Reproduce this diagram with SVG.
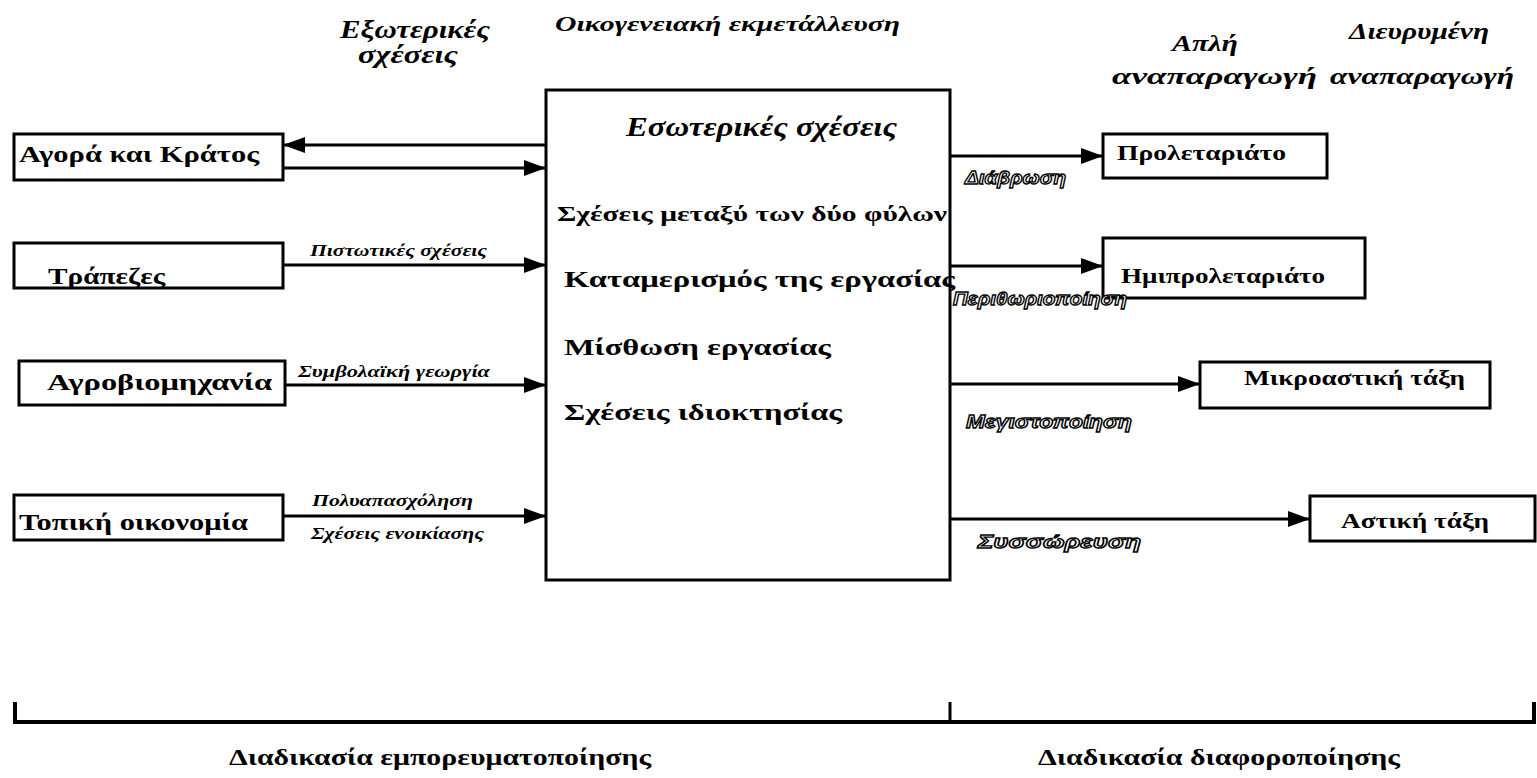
<svg xmlns="http://www.w3.org/2000/svg" width="1537" height="778" viewBox="0 0 1537 778">
<style>
.box{fill:#fff;stroke:#000;stroke-width:3}
.ln{stroke:#000;stroke-width:3;fill:none}
text{font-family:"Liberation Serif","Times New Roman","DejaVu Serif",serif}
.t{font-weight:bold;fill:#000}
.hi{font-weight:bold;font-style:italic;fill:#000}
.lab{font-weight:bold;font-style:italic;font-size:16px;fill:#000}
.out{font-family:"Liberation Sans",Arial,"DejaVu Sans",sans-serif;font-weight:bold;font-style:italic;font-size:19px;fill:#fff;stroke:#000;stroke-width:1.3}
</style>
<defs>
<marker id="ah" markerUnits="userSpaceOnUse" markerWidth="22" markerHeight="16" refX="22" refY="8" orient="auto">
<path d="M0,0 L22,8 L0,16 z" fill="#000"/>
</marker>
</defs>
<rect width="1537" height="778" fill="#fff"/>

<g id="headers">
<text class="hi" x="340" y="38" font-size="25" textLength="150" lengthAdjust="spacingAndGlyphs">Εξωτερικές</text>
<text class="hi" x="358" y="63" font-size="25" textLength="100" lengthAdjust="spacingAndGlyphs">σχέσεις</text>
<text class="hi" x="555" y="31" font-size="21" textLength="345" lengthAdjust="spacingAndGlyphs">Οικογενειακή εκμετάλλευση</text>
<text class="hi" x="1172" y="51" font-size="24" textLength="66" lengthAdjust="spacingAndGlyphs">Απλή</text>
<text class="hi" x="1112" y="84" font-size="24" textLength="205" lengthAdjust="spacingAndGlyphs">αναπαραγωγή</text>
<text class="hi" x="1349" y="39" font-size="24" textLength="140" lengthAdjust="spacingAndGlyphs">Διευρυμένη</text>
<text class="hi" x="1330" y="84" font-size="24" textLength="184" lengthAdjust="spacingAndGlyphs">αναπαραγωγή</text>
</g>

<g id="central">
<rect class="box" x="546" y="90" width="404" height="490"/>
<text class="hi" x="626" y="136" font-size="27" textLength="271" lengthAdjust="spacingAndGlyphs">Εσωτερικές σχέσεις</text>
<text class="t" x="557" y="221" font-size="21" textLength="390" lengthAdjust="spacingAndGlyphs">Σχέσεις μεταξύ των δύο φύλων</text>
<text class="t" x="564" y="287" font-size="24" textLength="391" lengthAdjust="spacingAndGlyphs">Καταμερισμός της εργασίας</text>
<text class="t" x="564" y="355" font-size="24" textLength="267" lengthAdjust="spacingAndGlyphs">Μίσθωση εργασίας</text>
<text class="t" x="564" y="420" font-size="24" textLength="278" lengthAdjust="spacingAndGlyphs">Σχέσεις ιδιοκτησίας</text>
</g>

<g id="agora">
<rect class="box" x="14" y="134" width="269" height="46"/>
<text class="t" x="19" y="162" font-size="23" textLength="240" lengthAdjust="spacingAndGlyphs">Αγορά και Κράτος</text>
</g>
<g id="trapezes">
<rect class="box" x="14" y="243" width="269" height="45"/>
<text class="t" x="48" y="284" font-size="23" textLength="117" lengthAdjust="spacingAndGlyphs">Τράπεζες</text>
</g>
<g id="agrobio">
<rect class="box" x="19" y="361" width="266" height="44"/>
<text class="t" x="47" y="390" font-size="24" textLength="225" lengthAdjust="spacingAndGlyphs">Αγροβιομηχανία</text>
</g>
<g id="topiki">
<rect class="box" x="14" y="495" width="269" height="45"/>
<text class="t" x="19" y="530" font-size="23" textLength="229" lengthAdjust="spacingAndGlyphs">Τοπική οικονομία</text>
</g>

<g id="proletariato">
<rect class="box" x="1103" y="134" width="224" height="44"/>
<text class="t" x="1117" y="160" font-size="21" textLength="169" lengthAdjust="spacingAndGlyphs">Προλεταριάτο</text>
</g>
<g id="imiproletariato">
<rect class="box" x="1103" y="238" width="262" height="60"/>
<text class="t" x="1121" y="283" font-size="21" textLength="204" lengthAdjust="spacingAndGlyphs">Ημιπρολεταριάτο</text>
</g>
<g id="mikroastiki">
<rect class="box" x="1200" y="362" width="290" height="46"/>
<text class="t" x="1244" y="385" font-size="21" textLength="221" lengthAdjust="spacingAndGlyphs">Μικροαστική τάξη</text>
</g>
<g id="astiki">
<rect class="box" x="1310" y="496" width="225" height="45"/>
<text class="t" x="1341" y="528" font-size="21" textLength="148" lengthAdjust="spacingAndGlyphs">Αστική τάξη</text>
</g>

<g id="connectors">
<line class="ln" x1="546" y1="145" x2="283" y2="145" marker-end="url(#ah)"/>
<line class="ln" x1="283" y1="168" x2="546" y2="168" marker-end="url(#ah)"/>
<line class="ln" x1="283" y1="265" x2="546" y2="265" marker-end="url(#ah)"/>
<line class="ln" x1="285" y1="385" x2="546" y2="385" marker-end="url(#ah)"/>
<line class="ln" x1="283" y1="516" x2="546" y2="516" marker-end="url(#ah)"/>
<line class="ln" x1="950" y1="156" x2="1103" y2="156" marker-end="url(#ah)"/>
<line class="ln" x1="950" y1="266" x2="1103" y2="266" marker-end="url(#ah)"/>
<line class="ln" x1="950" y1="384" x2="1200" y2="384" marker-end="url(#ah)"/>
<line class="ln" x1="950" y1="519" x2="1310" y2="519" marker-end="url(#ah)"/>
<text class="lab" x="310" y="256" textLength="177" lengthAdjust="spacingAndGlyphs">Πιστωτικές σχέσεις</text>
<text class="lab" x="298" y="377" textLength="192" lengthAdjust="spacingAndGlyphs">Συμβολαϊκή γεωργία</text>
<text class="lab" x="312" y="506" textLength="161" lengthAdjust="spacingAndGlyphs">Πολυαπασχόληση</text>
<text class="lab" x="311" y="539" textLength="173" lengthAdjust="spacingAndGlyphs">Σχέσεις ενοικίασης</text>
<g style="opacity:0.99">
<text class="out" x="965" y="184" textLength="101" lengthAdjust="spacingAndGlyphs">Διάβρωση</text>
<text class="out" x="953" y="305" textLength="174" lengthAdjust="spacingAndGlyphs">Περιθωριοποίηση</text>
<text class="out" x="966" y="428" textLength="166" lengthAdjust="spacingAndGlyphs">Μεγιστοποίηση</text>
<text class="out" x="978" y="548" textLength="163" lengthAdjust="spacingAndGlyphs">Συσσώρευση</text>
</g>
</g>

<g id="bracket">
<path d="M15,702 V722 H1534 V702" fill="none" stroke="#000" stroke-width="4"/>
<line x1="950" y1="702" x2="950" y2="722" stroke="#000" stroke-width="3"/>
<text class="t" x="229" y="765" font-size="23" textLength="422" lengthAdjust="spacingAndGlyphs">Διαδικασία εμπορευματοποίησης</text>
<text class="t" x="1038" y="765" font-size="23" textLength="362" lengthAdjust="spacingAndGlyphs">Διαδικασία διαφοροποίησης</text>
</g>
</svg>
